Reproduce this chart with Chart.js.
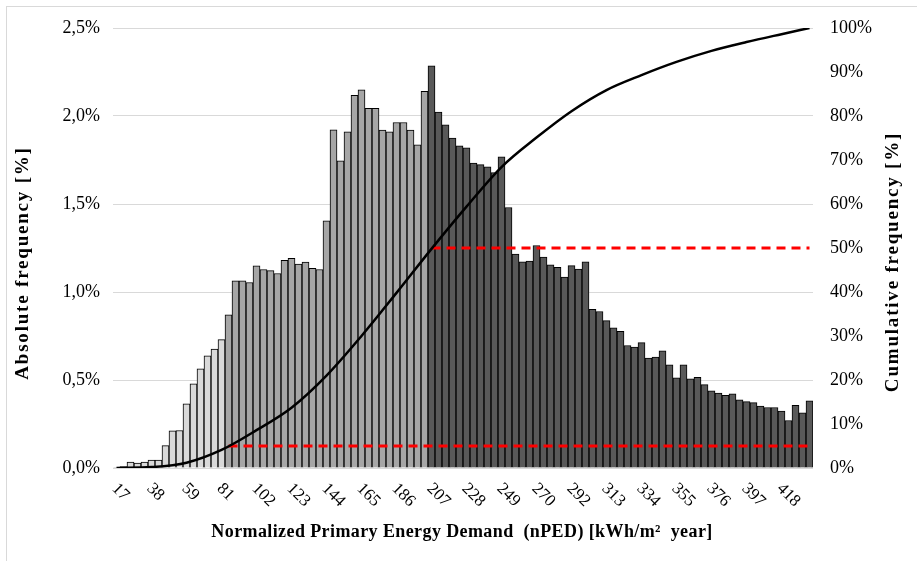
<!DOCTYPE html>
<html>
<head>
<meta charset="utf-8">
<script src="https://cdn.jsdelivr.net/npm/chart.js@4.4.1/dist/chart.umd.min.js"></script>
<style>
    html, body { margin: 0; padding: 0; background: #fff; }
    #wrap { position: relative; width: 917px; height: 561px; }
    #frame { position: absolute; left: 6px; top: 6px; width: 930px; height: 580px; border: 1px solid #d9d9d9; box-sizing: border-box; }
    #graph { position: absolute; left: 0; top: 0; }
</style>
</head>
<body>
<div id="wrap">
    <div id="frame"></div>
    <canvas id="graph" width="917" height="561"></canvas>
</div>
<script>
// ========================== Data ==========================
// tick labels every 5 bins, starting at bin 0
const tickLabels = ["17", "38", "59", "81", "102", "123", "144", "165", "186", "207",
    "228", "249", "270", "292", "313", "334", "355", "376", "397", "418"];

// absolute frequency per bin [%]
const frequency = [
    0.003, 0.008, 0.033, 0.028, 0.033, 0.045, 0.045, 0.127, 0.211, 0.213,
    0.365, 0.478, 0.563, 0.637, 0.675, 0.729, 0.870, 1.063, 1.063, 1.054,
    1.149, 1.128, 1.121, 1.105, 1.180, 1.191, 1.159, 1.170, 1.134, 1.128,
    1.405, 1.922, 1.745, 1.910, 2.118, 2.149, 2.043, 2.043, 1.920, 1.910,
    1.963, 1.963, 1.920, 1.836, 2.140, 2.285, 2.022, 1.950, 1.874, 1.830,
    1.819, 1.732, 1.724, 1.711, 1.678, 1.768, 1.480, 1.215, 1.172, 1.176,
    1.264, 1.198, 1.155, 1.140, 1.085, 1.150, 1.130, 1.171, 0.901, 0.889,
    0.837, 0.797, 0.776, 0.696, 0.687, 0.712, 0.624, 0.630, 0.666, 0.586,
    0.512, 0.586, 0.506, 0.515, 0.474, 0.438, 0.426, 0.413, 0.422, 0.388,
    0.377, 0.371, 0.352, 0.344, 0.344, 0.324, 0.270, 0.356, 0.314, 0.382
];

// cumulative frequency [%] read at these bins
const cumulativeBins = [0, 5, 10, 15, 20, 25, 30, 35, 40, 45, 50, 55, 60, 65, 70, 75, 80, 85, 90, 95, 99];
const cumulativeValues = [0.0, 0.2, 1.2, 4.1, 8.6, 13.7, 21.0, 30.0, 39.8, 49.8, 59.4, 68.4, 75.1, 81.1, 85.9, 89.3, 92.3, 94.8, 96.8, 98.6, 100];

// bar colour groups (first bin of each group)
const groupStart = [0, 16, 45];
const groupColors = ["#d9d9d9", "#a6a6a6", "#595959"];

// red dashed threshold lines (right axis)
const thresholdLevels = [5, 50];
const thresholdStart = [16, 45];

// ========================== Build ==========================
const nBins = frequency.length;
const binIndex = Array.from({ length: nBins }, (_, i) => i);

const barColors = binIndex.map((i) => {
    let c = groupColors[0];
    groupStart.forEach((s, g) => { if (i >= s) c = groupColors[g]; });
    return c;
});

const cumulative = binIndex.map(() => null);
cumulativeBins.forEach((b, k) => { cumulative[b] = cumulativeValues[k]; });

const thresholdSets = thresholdLevels.map((lvl, k) => ({
    type: "line",
    data: binIndex.map((i) => (i >= thresholdStart[k] ? lvl : null)),
    yAxisID: "y2",
    borderColor: "#ff0000",
    borderWidth: 3,
    borderDash: [9, 6],
    pointRadius: 0,
    fill: false,
    order: 2
}));

const SERIF = "'Liberation Serif', 'Times New Roman', serif";

// custom labels: rotated x ticks, titles
const labelPlugin = {
    id: "labels",
    afterDraw(chart) {
        const ctx = chart.ctx;
        const xs = chart.scales.x;
        const area = chart.chartArea;
        ctx.save();
        ctx.fillStyle = "#000";
        ctx.font = "17px " + SERIF;
        ctx.textAlign = "left";
        ctx.textBaseline = "top";
        tickLabels.forEach((t, k) => {
            const x = xs.getPixelForValue(k * 5);
            ctx.save();
            ctx.translate(x + 4, area.bottom + 12);
            ctx.rotate(Math.PI / 4);
            ctx.fillText(t, 0, 0);
            ctx.restore();
        });

        ctx.font = "bold 18px " + SERIF;
        ctx.textAlign = "center";
        ctx.textBaseline = "middle";
        ctx.letterSpacing = "0.4px";
        ctx.fillText("Normalized Primary Energy Demand  (nPED) [kWh/m\u00B2  year]", 462, 532);

        ctx.font = "bold 19px " + SERIF;
        ctx.letterSpacing = "1.8px";
        ctx.save();
        ctx.translate(23, 263);
        ctx.rotate(-Math.PI / 2);
        ctx.fillText("Absolute frequency [%]", 0, 0);
        ctx.restore();

        ctx.save();
        ctx.translate(893, 262);
        ctx.rotate(-Math.PI / 2);
        ctx.fillText("Cumulative frequency [%]", 0, 0);
        ctx.restore();
        ctx.restore();
    }
};

// ========================== Chart ==========================
new Chart(document.getElementById("graph").getContext("2d"), {
    data: {
        labels: binIndex,
        datasets: [
            {
                type: "line",
                data: cumulative,
                yAxisID: "y2",
                borderColor: "#000",
                borderWidth: 2.5,
                pointRadius: 0,
                spanGaps: true,
                cubicInterpolationMode: "monotone",
                fill: false,
                order: 1
            },
            ...thresholdSets,
            {
                type: "bar",
                data: frequency,
                yAxisID: "y",
                backgroundColor: barColors,
                borderColor: "#000",
                borderWidth: 1,
                barPercentage: 1,
                categoryPercentage: 1,
                order: 3
            }
        ]
    },
    options: {
        responsive: false,
        animation: false,
        layout: { padding: { top: 28, left: 0, right: 0, bottom: 0 } },
        plugins: { legend: { display: false }, tooltip: { enabled: false } },
        scales: {
            x: {
                type: "category",
                grid: { display: false },
                border: { display: false },
                ticks: { display: false },
                afterFit: (s) => { s.height = 93; }
            },
            y: {
                position: "left",
                min: 0,
                max: 2.5,
                grid: { color: "#d9d9d9", lineWidth: 1, drawTicks: false },
                border: { display: false },
                ticks: {
                    stepSize: 0.5,
                    padding: 13,
                    color: "#000",
                    font: { family: SERIF, size: 18 },
                    callback: (v) => v.toFixed(1).replace(".", ",") + "%"
                },
                afterFit: (s) => { s.width = 113; }
            },
            y2: {
                position: "right",
                min: 0,
                max: 100,
                grid: { drawOnChartArea: false, drawTicks: false },
                border: { display: false },
                ticks: {
                    stepSize: 10,
                    padding: 17,
                    color: "#000",
                    font: { family: SERIF, size: 18 },
                    callback: (v) => v + "%"
                },
                afterFit: (s) => { s.width = 104; }
            }
        }
    },
    plugins: [labelPlugin]
});
</script>
</body>
</html>
